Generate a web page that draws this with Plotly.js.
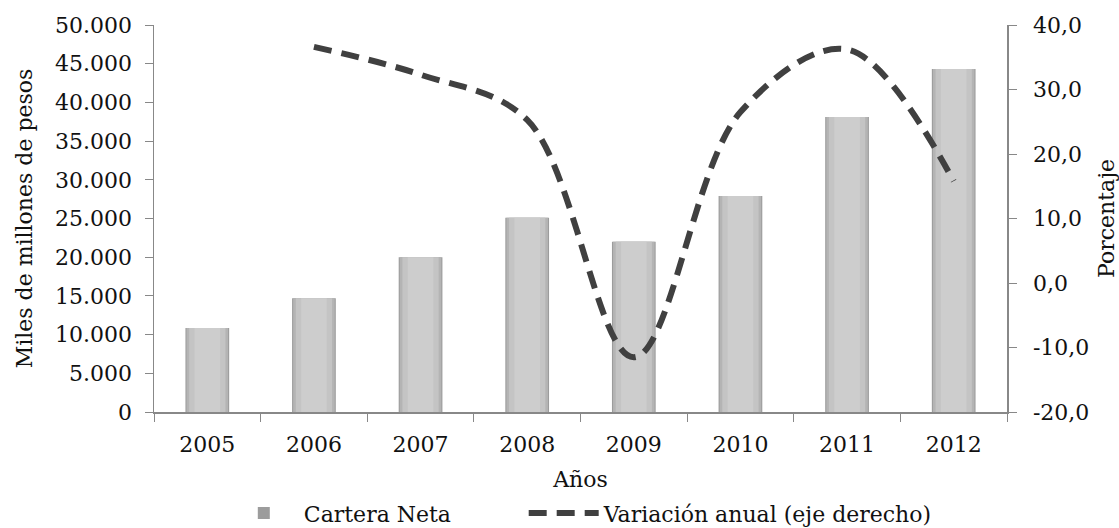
<!DOCTYPE html>
<html>
<head>
<meta charset="utf-8">
<script src="https://cdn.plot.ly/plotly-3.0.1.min.js"></script>
<style>html,body{margin:0;padding:0;background:#fff;}#chart{width:1119px;height:528px;}</style>
</head>
<body>
<div id="chart"></div>
<script>
const years = ['2005','2006','2007','2008','2009','2010','2011','2012'];
const carteraNeta = [10850, 14700, 20000, 25100, 22000, 27900, 38100, 44300];
const variacionAnual = [null, 36.6, 32.3, 25.3, -11.5, 26.5, 36.2, 15.8];
const leftTicks = [0, 5000, 10000, 15000, 20000, 25000, 30000, 35000, 40000, 45000, 50000];
const leftTickText = ['0','5.000','10.000','15.000','20.000','25.000','30.000','35.000','40.000','45.000','50.000'];
const rightTicks = [-20, -10, 0, 10, 20, 30, 40];
const rightTickText = ['-20,0','-10,0','0,0','10,0','20,0','30,0','40,0'];

const FONT = 'DejaVu Serif, Liberation Serif, serif';
const FS = 22;
const TXT = '#111';
// layered bars to imitate the glossy grey gradient of the original
const barLayers = [
  {w: 0.41, c: '#9c9c9c', show: true},
  {w: 0.39, c: '#b4b4b4', show: false},
  {w: 0.34, c: '#c4c4c4', show: false},
  {w: 0.24, c: '#cdcdcd', show: false}
];
const traces = barLayers.map((l, i) => ({
  type: 'bar', x: years, y: carteraNeta, width: l.w,
  name: 'Cartera Neta', showlegend: l.show, legendgroup: 'c', legend: 'legend',
  marker: {color: l.c, line: {width: 0}}, hoverinfo: 'skip'
}));
traces.push({
  type: 'scatter', mode: 'lines', x: years, y: variacionAnual, yaxis: 'y2',
  name: 'Variación anual (eje derecho)', connectgaps: false, legend: 'legend2',
  line: {color: '#404040', width: 6, dash: '18px,10px', shape: 'spline', smoothing: 1.0}
});

const legendBase = {orientation: 'h', xref: 'container', yref: 'container', xanchor: 'left',
  y: 0.028, yanchor: 'middle', font: {family: FONT, size: FS, color: TXT},
  itemwidth: 70, bgcolor: 'rgba(0,0,0,0)', borderwidth: 0};

const layout = {
  width: 1119, height: 528,
  margin: {l: 154, r: 112, t: 25, b: 116, autoexpand: false},
  paper_bgcolor: '#fff', plot_bgcolor: '#fff',
  barmode: 'overlay',
  font: {family: FONT, size: FS, color: TXT},
  showlegend: true,
  legend: Object.assign({}, legendBase, {x: 0.200}),
  legend2: Object.assign({}, legendBase, {x: 0.468}),
  xaxis: {type: 'category', showline: true, linecolor: '#888', linewidth: 1.5,
          ticks: 'outside', tickson: 'boundaries', ticklen: 8, tickcolor: '#888',
          showgrid: false, zeroline: false, ticklabelstandoff: 12,
          tickfont: {family: FONT, size: FS, color: TXT},
          title: {text: 'Años', font: {family: FONT, size: FS, color: TXT}, standoff: 16}},
  yaxis: {range: [0, 50000], tickvals: leftTicks, ticktext: leftTickText,
          showline: true, linecolor: '#888', linewidth: 1.5, ticks: 'outside', ticklen: 8, tickcolor: '#888',
          showgrid: false, zeroline: false, ticklabelstandoff: 8,
          tickfont: {family: FONT, size: FS, color: TXT},
          title: {text: 'Miles de millones de pesos', font: {family: FONT, size: FS, color: TXT}, standoff: 16}},
  yaxis2: {range: [-20, 40], tickvals: rightTicks, ticktext: rightTickText, overlaying: 'y', side: 'right',
          showline: true, linecolor: '#888', linewidth: 1.5, ticks: 'outside', ticklen: 8, tickcolor: '#888',
          showgrid: false, zeroline: false, ticklabelstandoff: 12,
          tickfont: {family: FONT, size: FS, color: TXT},
          title: {text: 'Porcentaje', font: {family: FONT, size: FS, color: TXT}, standoff: 10}}
};
Plotly.newPlot('chart', traces, layout, {displayModeBar: false, staticPlot: true});
</script>
</body>
</html>
